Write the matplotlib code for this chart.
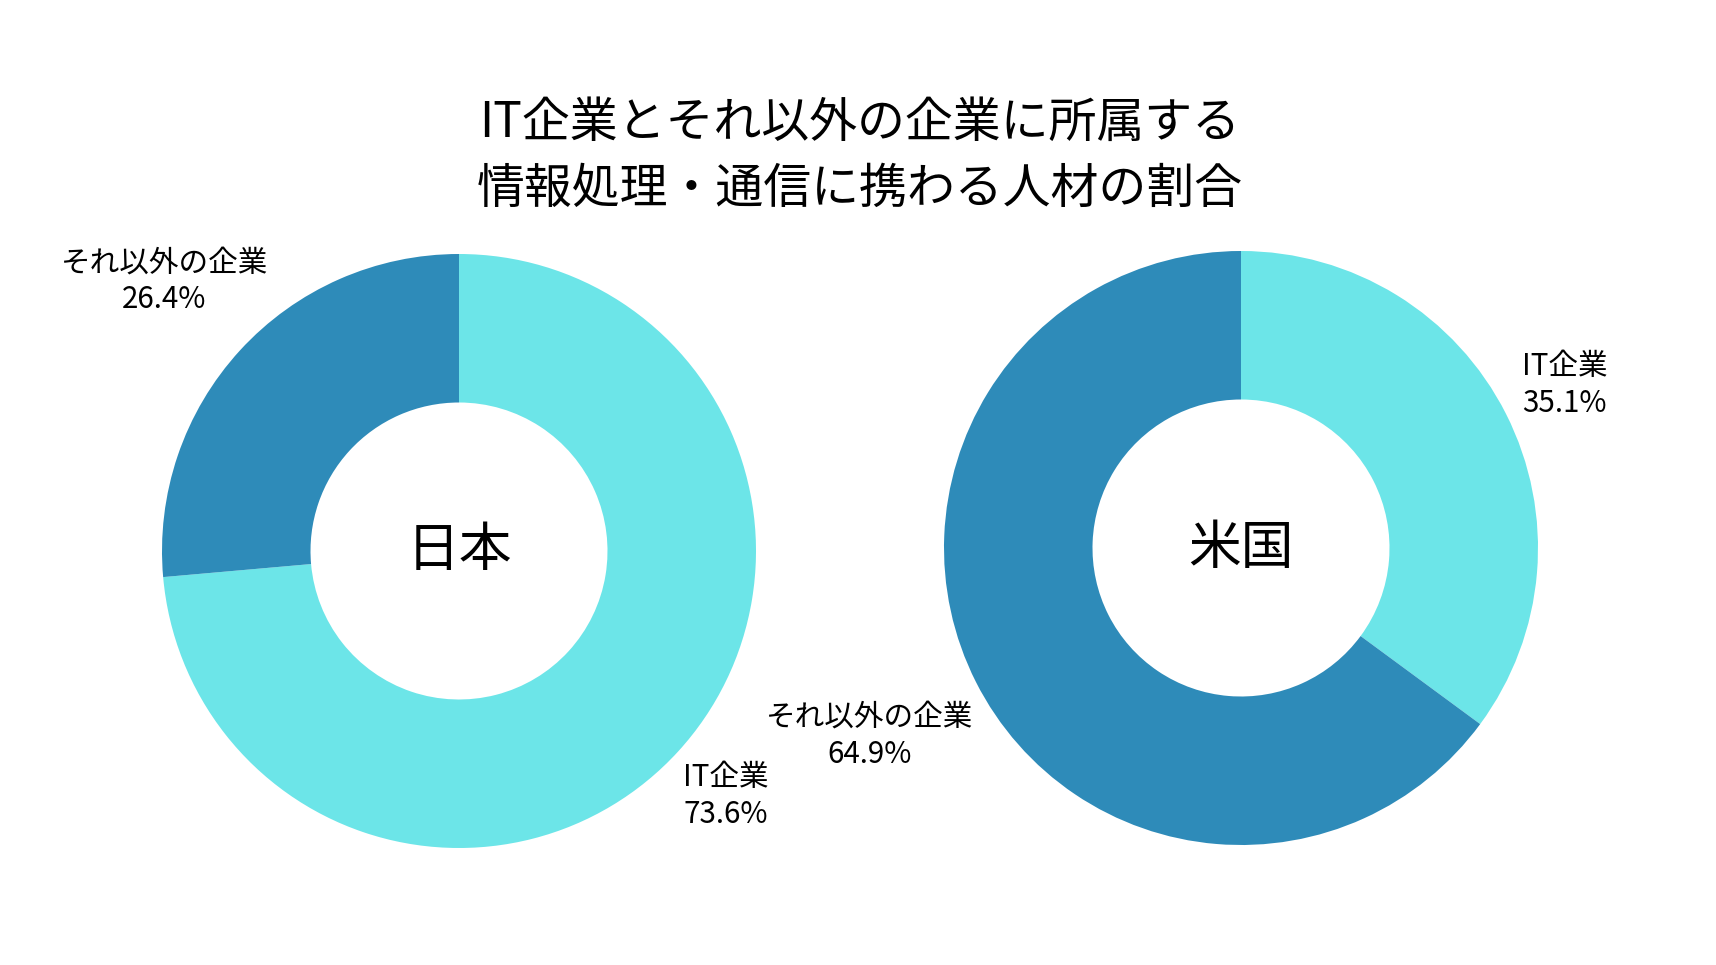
import numpy as np
import matplotlib
matplotlib.use("Agg")
import matplotlib.pyplot as plt

plt.rcParams['font.family'] = ['Noto Sans CJK JP', 'DejaVu Sans']

# データ
countries = ["日本", "米国"]
categories = ["IT企業", "それ以外の企業"]
japan = [73.6, 26.4]
usa = [35.1, 64.9]
colors = ["#6CE5E8", "#2E8BB9"]
title = "IT企業とそれ以外の企業に所属する\n情報処理・通信に携わる人材の割合"

W, H = 1716, 965
fig = plt.figure(figsize=(W / 100, H / 100), dpi=100)
ax = fig.add_axes([0, 0, 1, 1])

centers = [(459, H - 551), (1241, H - 548)]
radius = 297
label_dist = [[1.22, 1.345], [1.22, 1.40]]

for k, (name, values, center) in enumerate(zip(countries, [japan, usa], centers)):
    wedges, _ = ax.pie(values, colors=colors, startangle=90, counterclock=False,
                       radius=radius, center=center,
                       wedgeprops=dict(width=radius * 0.5, linewidth=0))
    for i, w in enumerate(wedges):
        ang = np.deg2rad((w.theta1 + w.theta2) / 2)
        r = radius * label_dist[k][i]
        x = center[0] + r * np.cos(ang)
        y = center[1] + r * np.sin(ang)
        ax.text(x, y, f"{categories[i]}\n{values[i]}%", ha="center", va="center",
                fontsize=21.3, linespacing=1.25)
    ax.text(center[0], center[1], name, ha="center", va="center", fontsize=38)

ax.set_xlim(0, W)
ax.set_ylim(0, H)
ax.set_aspect("auto")
ax.axis("off")

fig.text(0.501, 0.838, title, ha="center", va="center", fontsize=34.5, linespacing=1.42)

fig.savefig("out.png", dpi=100, facecolor="white")
